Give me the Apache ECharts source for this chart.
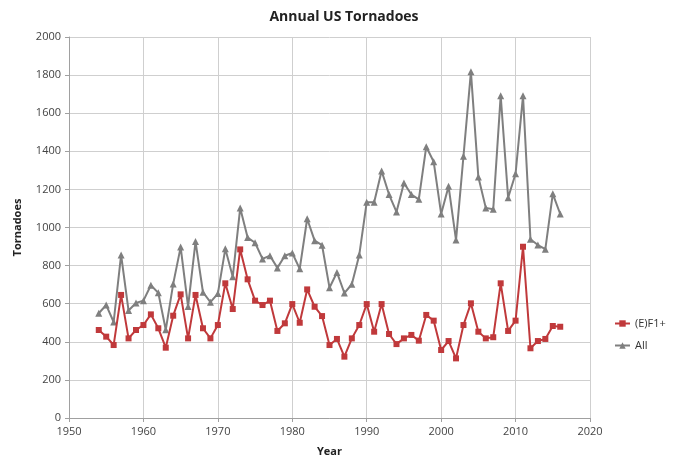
<!DOCTYPE html>
<html>
<head>
<meta charset="utf-8">
<script src="https://cdn.jsdelivr.net/npm/echarts@6/dist/echarts.min.js"></script>
<style>
html,body{margin:0;padding:0;background:#fff;}
#c{width:684px;height:458px;}
</style>
</head>
<body>
<div id="c"></div>
<script>
const years = [1954,1955,1956,1957,1958,1959,1960,1961,1962,1963,1964,1965,1966,1967,1968,1969,1970,1971,1972,1973,1974,1975,1976,1977,1978,1979,1980,1981,1982,1983,1984,1985,1986,1987,1988,1989,1990,1991,1992,1993,1994,1995,1996,1997,1998,1999,2000,2001,2002,2003,2004,2005,2006,2007,2008,2009,2010,2011,2012,2013,2014,2015,2016];
const ef1plus = [462,427,383,646,418,462,488,544,471,369,537,649,418,646,471,418,488,707,572,885,728,616,593,616,457,497,598,500,675,584,535,383,415,322,418,488,598,453,598,441,388,418,436,406,541,511,357,404,313,488,602,453,418,424,707,457,511,899,366,404,415,483,479];
const allT = [550,593,504,856,564,604,616,697,657,463,704,897,585,926,660,608,653,888,741,1102,947,920,835,852,788,852,866,783,1046,931,907,684,764,656,702,856,1133,1132,1297,1173,1082,1234,1173,1148,1424,1345,1071,1216,934,1374,1817,1265,1103,1096,1692,1156,1282,1691,938,908,886,1177,1071];
const seriesNames = ['(E)F1+','All'];

const font = '"Open Sans", "Liberation Sans", sans-serif';
const chart = echarts.init(document.getElementById('c'), null, {renderer:'canvas'});
chart.setOption({
  animation:false,
  backgroundColor:'#fff',
  title:{text:'Annual US Tornadoes',left:339,textAlign:'center',top:5,
    textStyle:{fontFamily:font,fontSize:14,fontWeight:'bold',color:'#222'}},
  grid:{left:69,right:94,top:37,bottom:40,containLabel:false,outerBoundsMode:'none'},
  legend:{orient:'vertical',left:609,top:313,itemWidth:15,itemHeight:8,itemGap:11,
    textStyle:{fontFamily:font,fontSize:11,color:'#333'},
    data:seriesNames},
  xAxis:{type:'value',min:1950,max:2020,interval:10,
    name:'Year',nameLocation:'middle',nameGap:28,
    nameTextStyle:{fontFamily:font,fontSize:11,fontWeight:'bold',color:'#222'},
    axisLine:{lineStyle:{color:'#a0a0a0'}},
    axisTick:{show:true,length:4,lineStyle:{color:'#a0a0a0'}},
    axisLabel:{fontFamily:font,fontSize:11,color:'#444',margin:8,formatter:v=>String(v)},
    splitLine:{show:true,lineStyle:{color:'#cfcfcf',width:1}}},
  yAxis:{type:'value',min:0,max:2000,interval:200,
    name:'Tornadoes',nameLocation:'middle',nameGap:46,nameRotate:90,
    nameTextStyle:{fontFamily:font,fontSize:11,fontWeight:'bold',color:'#222'},
    axisLine:{show:true,lineStyle:{color:'#a0a0a0'}},
    axisTick:{show:true,length:4,lineStyle:{color:'#a0a0a0'}},
    axisLabel:{fontFamily:font,fontSize:11,color:'#444',margin:8,formatter:v=>String(v)},
    splitLine:{show:true,lineStyle:{color:'#cfcfcf',width:1}}},
  series:[
    {name:seriesNames[0],type:'line',data:years.map((y,i)=>[y,ef1plus[i]]),
      symbol:'rect',symbolSize:6,showAllSymbol:true,
      lineStyle:{color:'#c0393b',width:2},itemStyle:{color:'#c0393b'},z:3},
    {name:seriesNames[1],type:'line',data:years.map((y,i)=>[y,allT[i]]),
      symbol:'triangle',symbolSize:7,showAllSymbol:true,
      lineStyle:{color:'#7f7f7f',width:2},itemStyle:{color:'#7f7f7f'},z:2}
  ]
});
</script>
</body>
</html>
